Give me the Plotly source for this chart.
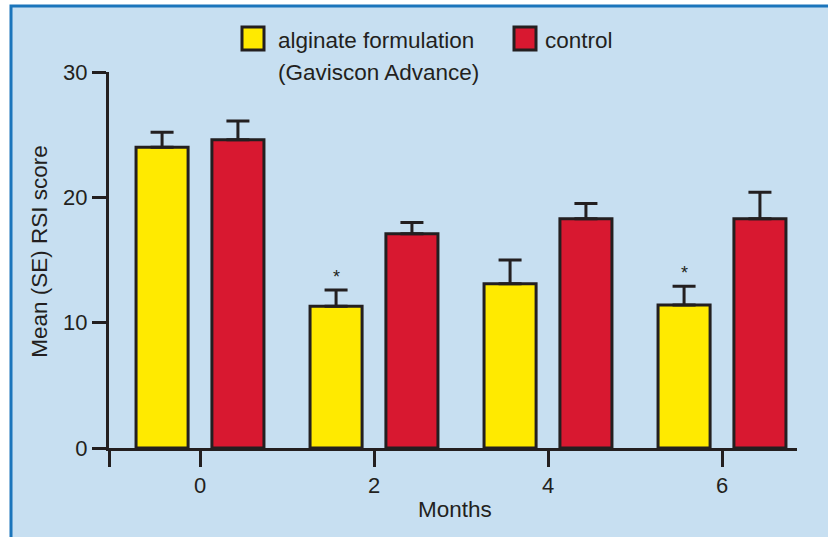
import plotly.graph_objects as go

# ---- data ----
months = ['0', '2', '4', '6']
series_names = ['alginate formulation', '(Gaviscon Advance)', 'control']
alginate_mean = [24.0, 11.3, 13.1, 11.4]
alginate_se = [1.2, 1.3, 1.9, 1.5]
control_mean = [24.6, 17.1, 18.3, 18.3]
control_se = [1.5, 0.9, 1.2, 2.1]
significant = [False, True, False, True]
y_ticks = [0, 10, 20, 30]

# ---- style ----
W, H = 828, 537
L, R, T, B = 109, 31, 72, 88.5
PW, PH = W - L - R, H - T - B
BG = '#c7dff1'
YEL = '#ffea00'
RED = '#d81830'
INK = '#231f20'
FONT = 'Liberation Sans, Arial, Helvetica, sans-serif'
bargap = 0.128
bargroupgap = 0.314


def px2x(px):
    return (px - L) / PW


def py2y(py):
    return (H - B - py) / PH


xs = list(range(len(months)))

fig = go.Figure()
fig.add_trace(go.Bar(
    x=xs, y=alginate_mean, name=series_names[0],
    marker=dict(color=YEL, line=dict(color=INK, width=3)),
    error_y=dict(type='data', array=alginate_se, arrayminus=[0] * len(xs),
                 symmetric=False, color=INK, thickness=3, width=11.5),
    showlegend=False,
))
fig.add_trace(go.Bar(
    x=xs, y=control_mean, name=series_names[2],
    marker=dict(color=RED, line=dict(color=INK, width=3)),
    error_y=dict(type='data', array=control_se, arrayminus=[0] * len(xs),
                 symmetric=False, color=INK, thickness=3, width=11.5),
    showlegend=False,
))

# x range so that categories sit where the reference puts them
xr = [-0.523, 3.431]

annotations = []
off = (1 - bargap) / 4
for i, sig in enumerate(significant):
    if sig:
        annotations.append(dict(
            x=xs[i] - off, y=alginate_mean[i] + alginate_se[i], xref='x', yref='y',
            text='*', showarrow=False, font=dict(size=18, color=INK, family=FONT),
            yanchor='bottom', yshift=1))

# axis titles
annotations.append(dict(x=px2x(455), y=py2y(510), xref='paper', yref='paper',
                        text='Months', showarrow=False, xanchor='center', yanchor='middle',
                        font=dict(size=22.5, color=INK, family=FONT)))
annotations.append(dict(x=px2x(40), y=py2y(252), xref='paper', yref='paper',
                        text='Mean (SE) RSI score', showarrow=False, textangle=-90,
                        xanchor='center', yanchor='middle',
                        font=dict(size=22.5, color=INK, family=FONT)))
# legend texts
annotations.append(dict(x=px2x(276), y=py2y(40), xref='paper', yref='paper',
                        text=series_names[0], showarrow=False, xanchor='left', yanchor='middle',
                        font=dict(size=22.5, color=INK, family=FONT)))
annotations.append(dict(x=px2x(276), y=py2y(72), xref='paper', yref='paper',
                        text=series_names[1], showarrow=False, xanchor='left', yanchor='middle',
                        font=dict(size=22.5, color=INK, family=FONT)))
annotations.append(dict(x=px2x(543), y=py2y(40), xref='paper', yref='paper',
                        text=series_names[2], showarrow=False, xanchor='left', yanchor='middle',
                        font=dict(size=22.5, color=INK, family=FONT)))

shapes = [
    # panel background with blue left/top border
    dict(type='rect', xref='paper', yref='paper', layer='below',
         x0=px2x(11), x1=px2x(850), y0=py2y(560), y1=py2y(6),
         fillcolor=BG, line=dict(color='#1b75bb', width=3)),
    # legend swatches
    dict(type='rect', xref='paper', yref='paper',
         x0=px2x(242), x1=px2x(264), y0=py2y(50), y1=py2y(27),
         fillcolor=YEL, line=dict(color=INK, width=3)),
    dict(type='rect', xref='paper', yref='paper',
         x0=px2x(514), x1=px2x(536), y0=py2y(50), y1=py2y(27),
         fillcolor=RED, line=dict(color=INK, width=3)),
]

fig.update_layout(
    width=W, height=H,
    margin=dict(l=L, r=R, t=T, b=B, autoexpand=False),
    paper_bgcolor='white', plot_bgcolor='rgba(0,0,0,0)',
    barmode='group', bargap=bargap, bargroupgap=bargroupgap,
    font=dict(family=FONT, color=INK, size=22),
    showlegend=False,
    hovermode=False,
    annotations=annotations,
    shapes=shapes,
)
fig.update_xaxes(
    range=xr, tickmode='array', tickvals=[xr[0] + 0.001] + xs, ticktext=[''] + months,
    showline=True, linecolor=INK, linewidth=3, ticks='outside', ticklen=16,
    tickwidth=3, tickcolor=INK, showgrid=False, zeroline=False,
    tickfont=dict(size=22, color=INK, family=FONT),
)
fig.update_yaxes(
    range=[0, 30], tickmode='array', tickvals=y_ticks,
    showline=True, linecolor=INK, linewidth=3, ticks='outside', ticklen=14,
    tickwidth=3, tickcolor=INK, showgrid=False, zeroline=False,
    tickfont=dict(size=22, color=INK, family=FONT),
)

fig.write_html('out.html', config={'displayModeBar': False, 'staticPlot': False},
               post_script="document.body.style.margin='0px';document.body.style.padding='0px';")
